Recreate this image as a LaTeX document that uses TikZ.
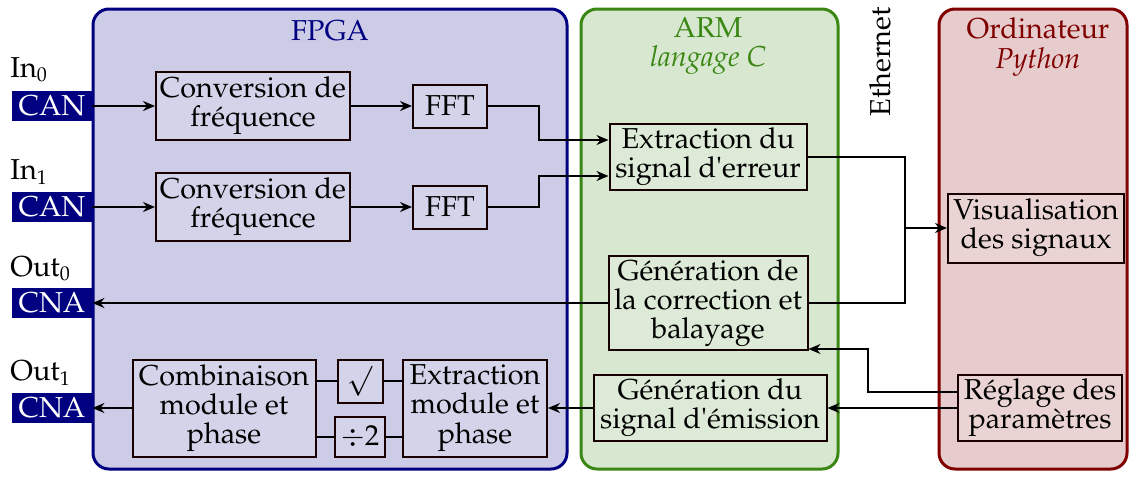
\documentclass[tikz,border=0pt,12pt]{standalone}
\usepackage[T1]{fontenc}
\usepackage{textcomp}
\usepackage{mathpazo}
\usepackage{tikz}
\usetikzlibrary{positioning,arrows.meta,calc}

\definecolor{fpgacol}{RGB}{0,0,128}
\definecolor{armcol}{RGB}{58,135,20}
\definecolor{pccol}{RGB}{128,0,0}
\newcommand{\apos}{\textquotesingle}

\begin{document}
\begin{tikzpicture}[
  x=0.5pt, y=-0.5pt,
  every node/.style={font=\fontsize{14.4}{14.6}\selectfont},
  panel/.style={line width=1.5pt, rounded corners=8pt},
  blk/.style={draw=black!90!red, line width=1pt, fill=white, fill opacity=0.15, text opacity=1, align=center, inner sep=1pt},
  conv/.style={draw=fpgacol, fill=fpgacol, text=white, minimum width=40pt, minimum height=14.5pt, inner sep=0pt},
  lbl/.style={anchor=west, inner sep=0pt},
  ttl/.style={inner sep=0pt, align=center},
  arr/.style={-{Stealth[length=6pt,width=5pt]}, line width=0.8pt},
  ln/.style={line width=0.8pt}
]
\useasboundingbox (0,0) rectangle (1130,483);

% panels
\draw[panel, draw=fpgacol, fill=fpgacol!20] (93,9) rectangle (567,469);
\draw[panel, draw=armcol, fill=armcol!20] (581,9) rectangle (838,469);
\draw[panel, draw=pccol, fill=pccol!20] (939,9) rectangle (1127,469);
\node[ttl, text=fpgacol] (tfpga) at (330,31) {FPGA};
\node[ttl, text=armcol] (tarm) at (708,46) {ARM\\ \textit{langage C}};
\node[ttl, text=pccol] (tpc) at (1038,47) {Ordinateur\\ \textit{Python}};
\node[ttl, rotate=90] (teth) at (880,62) {Ethernet};

% entrees / sorties
\node[lbl] (lin0) at (10,70) {In$_0$};
\node[conv] (can0) at (52,106) {CAN};
\node[lbl] (lin1) at (10,172) {In$_1$};
\node[conv] (can1) at (52,207) {CAN};
\node[lbl] (lout0) at (10,269) {Out$_0$};
\node[conv] (cna0) at (52,303) {CNA};
\node[lbl] (lout1) at (10,373) {Out$_1$};
\node[conv] (cna1) at (52,408) {CNA};

% FPGA
\node[blk, minimum width=97pt, minimum height=34pt] (conv0) at (253,106) {Conversion de\\fr\'equence};
\node[blk, minimum width=37pt, minimum height=21.5pt] (fft0) at (450,106) {FFT};
\node[blk, minimum width=97pt, minimum height=34pt] (conv1) at (253,207) {Conversion de\\fr\'equence};
\node[blk, minimum width=37pt, minimum height=21.5pt] (fft1) at (450,207) {FFT};
\node[blk, minimum width=91.5pt, minimum height=48.5pt] (comb) at (224,408) {Combinaison\\module et\\phase};
\node[blk, minimum width=22.5pt, minimum height=21.5pt] (sqrtb) at (360,381) {$\surd$};
\node[blk, minimum width=25pt, minimum height=20pt] (divb) at (360,437) {$\div 2$};
\node[blk, minimum width=72pt, minimum height=48.5pt] (extmod) at (475,408) {Extraction\\module et\\phase};

% ARM
\node[blk, minimum width=98.5pt, minimum height=33pt] (errx) at (708,157) {Extraction du\\signal d\apos erreur};
\node[blk, minimum width=99.5pt, minimum height=47pt] (gencor) at (708,303) {G\'en\'eration de\\la correction et\\balayage};
\node[blk, minimum width=116.5pt, minimum height=33pt] (genem) at (710,408) {G\'en\'eration du\\signal d\apos\'emission};

% Ordinateur
\node[blk, minimum width=88pt, minimum height=34.5pt] (visu) at (1036,228) {Visualisation\\des signaux};
\node[blk, minimum width=82pt, minimum height=33pt] (regl) at (1040,408) {R\'eglage des\\param\`etres};

\coordinate (eth) at (905,228);
\coordinate (rc) at (868,349);

% liaisons
\draw[arr] (can0) -- (conv0);
\draw[arr] (can1) -- (conv1);
\draw[arr] (conv0) -- (fft0);
\draw[arr] (conv1) -- (fft1);
\draw[arr] (fft0.east) -- ++(51,0) |- ([yshift=8.5pt]errx.west);
\draw[arr] (fft1.east) -- ++(51,0) |- ([yshift=-9.5pt]errx.west);
\draw[ln] (errx.east) -| (eth);
\draw[ln] (gencor.east) -| (eth);
\draw[arr] (eth) -- (visu.west);
\draw[arr] (gencor.west) -- (cna0.east);
\draw[arr] ([yshift=8pt]regl.west) -| (rc) -- (rc -| gencor.east);
\draw[arr] (regl.west) -- (genem.east);
\draw[arr] (genem.west) -- (extmod.east);
\draw[ln] (extmod.west |- sqrtb) -- (sqrtb);
\draw[ln] (extmod.west |- divb) -- (divb);
\draw[ln] (sqrtb) -- (comb.east |- sqrtb);
\draw[ln] (divb) -- (comb.east |- divb);
\draw[arr] (comb.west) -- (cna1.east);

\end{tikzpicture}
\end{document}
